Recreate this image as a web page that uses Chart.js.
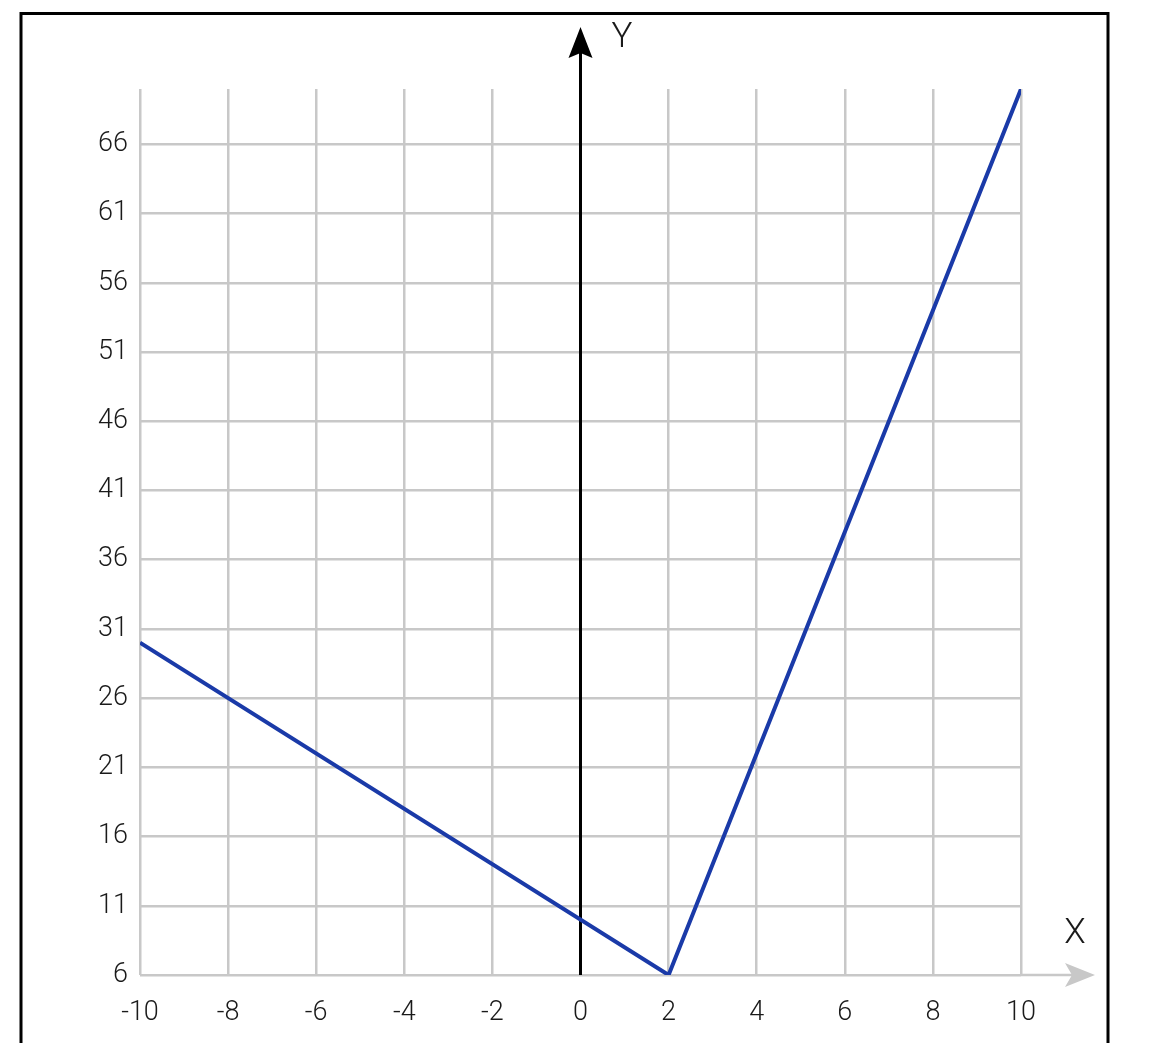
<!DOCTYPE html>
<html>
<head>
<meta charset="utf-8">
<script src="https://cdn.jsdelivr.net/npm/chart.js@4"></script>
<style>
  html, body { margin: 0; padding: 0; background: #fff; }
  canvas { display: block; }
</style>
</head>
<body>
<canvas id="chart" width="1152" height="1043"></canvas>
<script>
// piecewise line
const xValues = [-10, 2, 10];
const yValues = [30, 6, 70];
const xTicks = [-10, -8, -6, -4, -2, 0, 2, 4, 6, 8, 10];
const yTicks = [6, 11, 16, 21, 26, 31, 36, 41, 46, 51, 56, 61, 66];

const gridColor = '#c8c8c8';
const textColor = '#1a1a1a';
const fontFamily = 'Roboto, "Noto Sans", sans-serif';

const axesPlugin = {
  id: 'axesPlugin',
  beforeDatasetsDraw(chart) {
    const ctx = chart.ctx;
    const x0 = chart.scales.x.getPixelForValue(0);
    const yb = chart.chartArea.bottom;
    ctx.save();
    // y axis line
    ctx.strokeStyle = '#000';
    ctx.lineWidth = 3;
    ctx.beginPath();
    ctx.moveTo(x0, yb);
    ctx.lineTo(x0, 40);
    ctx.stroke();
    // x axis extension (gray)
    ctx.strokeStyle = gridColor;
    ctx.lineWidth = 2.5;
    ctx.beginPath();
    ctx.moveTo(chart.chartArea.right, yb);
    ctx.lineTo(1080, yb);
    ctx.stroke();
    ctx.restore();
  },
  afterDraw(chart) {
    const ctx = chart.ctx;
    const x0 = chart.scales.x.getPixelForValue(0);
    const yb = chart.chartArea.bottom;
    ctx.save();
    // y arrow head
    ctx.fillStyle = '#000';
    ctx.beginPath();
    ctx.moveTo(x0, 27);
    ctx.lineTo(x0 + 12, 58);
    ctx.lineTo(x0, 53);
    ctx.lineTo(x0 - 12, 58);
    ctx.closePath();
    ctx.fill();
    // x arrow head
    ctx.fillStyle = gridColor;
    ctx.beginPath();
    ctx.moveTo(1095, yb);
    ctx.lineTo(1065, yb - 12);
    ctx.lineTo(1072, yb);
    ctx.lineTo(1065, yb + 12);
    ctx.closePath();
    ctx.fill();
    // axis names
    ctx.fillStyle = textColor;
    ctx.font = '300 35px ' + fontFamily;
    ctx.textAlign = 'center';
    ctx.textBaseline = 'middle';
    ctx.fillText('Y', 622, 38);
    ctx.fillText('X', 1075, 934);
    // frame
    ctx.strokeStyle = '#000';
    ctx.lineWidth = 3;
    ctx.beginPath();
    ctx.moveTo(21, 1050);
    ctx.lineTo(21, 13.5);
    ctx.lineTo(1108, 13.5);
    ctx.lineTo(1108, 1050);
    ctx.stroke();
    ctx.restore();
  }
};

new Chart(document.getElementById('chart'), {
  type: 'scatter',
  data: {
    datasets: [
      {
        data: xValues.map((v, i) => ({ x: v, y: yValues[i] })),
        showLine: true,
        borderColor: '#1a3aa8',
        borderWidth: 4,
        pointRadius: 0,
        pointHoverRadius: 0,
      },
    ],
  },
  options: {
    responsive: false,
    devicePixelRatio: 1,
    animation: false,
    events: [],
    layout: { padding: { top: 89, right: 131, bottom: 0, left: 0 } },
    plugins: { legend: { display: false }, tooltip: { enabled: false } },
    scales: {
      x: {
        type: 'linear',
        min: -10,
        max: 10,
        afterBuildTicks: (scale) => {
          scale.ticks = xTicks.map((v) => ({ value: v }));
        },
        afterFit: (scale) => {
          scale.height = 68;
        },
        ticks: {
          color: textColor,
          font: { family: fontFamily, size: 27, weight: 300 },
          padding: 22,
          maxRotation: 0,
          autoSkip: false,
        },
        grid: { color: gridColor, lineWidth: 2.5, drawTicks: false },
        border: { display: false },
      },
      y: {
        type: 'linear',
        min: 6,
        max: 70,
        afterBuildTicks: (scale) => {
          scale.ticks = yTicks.map((v) => ({ value: v }));
        },
        afterFit: (scale) => {
          scale.width = 140;
        },
        ticks: {
          color: textColor,
          font: { family: fontFamily, size: 27, weight: 300 },
          padding: 12,
          autoSkip: false,
        },
        grid: { color: gridColor, lineWidth: 2.5, drawTicks: false },
        border: { display: false },
      },
    },
  },
  plugins: [axesPlugin],
});
</script>
</body>
</html>
